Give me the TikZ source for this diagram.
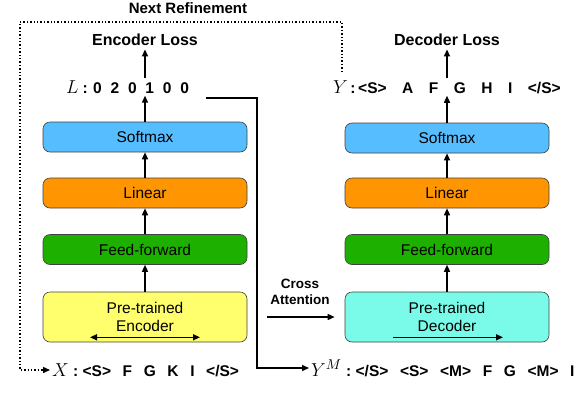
\documentclass[tikz,border=0pt]{standalone}
\usepackage{graphicx}
\usepackage{fontspec}
\setmainfont{Liberation Sans}
\usepackage{tikz}
\usetikzlibrary{arrows.meta}
\usetikzlibrary{positioning}
\definecolor{smblue}{RGB}{86,190,255}
\definecolor{linorange}{RGB}{255,149,0}
\definecolor{ffgreen}{RGB}{30,176,0}
\definecolor{encyellow}{RGB}{255,255,110}
\definecolor{deccyan}{RGB}{122,250,232}
\newcommand{\tkgap}{\hspace{0.75em}}
\newcommand{\tkwide}{\hspace{1.0em}}
\newcommand{\tknarrow}{\hspace{0.57em}}
\newcommand{\seqvar}[1]{\scalebox{1.3}{$#1$}}

\begin{document}
\begin{tikzpicture}[x=1pt, y=-1pt,
  layer/.style={draw=black!75, rounded corners=7pt, line width=0.6pt, minimum width=204pt, minimum height=30pt, font=\fontsize{15.5}{18}\selectfont},
  plm/.style={layer, minimum height=50pt, align=center},
  flow/.style={line width=1.4pt, -{Triangle[length=7pt,width=6pt]}},
  lossname/.style={font=\fontsize{16}{18}\selectfont\bfseries},
  tokens/.style={font=\fontsize{15.5}{18}\selectfont\bfseries, inner sep=2pt, anchor=west}]
\useasboundingbox (0,0) rectangle (580,410);
% encoder side
\node[layer, fill=smblue] (EncSm) at (145,137) {Softmax};
\node[layer, fill=linorange] (EncLin) at (145,193) {Linear};
\node[layer, fill=ffgreen] (EncFF) at (145,249.5) {Feed-forward};
\node[plm, fill=encyellow] (Enc) at (145,317) {Pre-trained\\Encoder};
\node[tokens] (LRow) at (64,87) {\seqvar{L}\hspace{0.25em}:\hspace{0.35em}0\tknarrow2\tknarrow0\tknarrow1\tknarrow0\tknarrow0};
\node[lossname] (EncLoss) at (145,40) {Encoder Loss};
\node[tokens] (XRow) at (50,370) {\seqvar{X}\;:\;<S>\tkgap{}F\tkgap{}G\tkgap{}K\tkgap{}I\tkgap{}</S>};
% decoder side
\node[layer, fill=smblue] (DecSm) at (447,138) {Softmax};
\node[layer, fill=linorange] (DecLin) at (447,193) {Linear};
\node[layer, fill=ffgreen] (DecFF) at (447,249.5) {Feed-forward};
\node[plm, fill=deccyan] (Dec) at (447,317) {Pre-trained\\Decoder};
\node[tokens] (YRow) at (331,87) {\seqvar{Y}\,:\,<S>\tkwide{}A\tkwide{}F\tkwide{}G\tkwide{}H\tkwide{}I\tkwide{}</S>};
\node[lossname] (DecLoss) at (447,40) {Decoder Loss};
\node[tokens] (YMRow) at (309,368) {\seqvar{Y^M}\;:\;</S>\tkgap{}<S>\tkgap{}<M>\tkgap{}F\tkgap{}G\tkgap{}<M>\tkgap{}I};
% labels
\node[font=\fontsize{15}{17}\selectfont\bfseries] (NextRef) at (188,8) {Next Refinement};
\node[font=\fontsize{13.5}{16}\selectfont\bfseries, align=center] (CrossAtt) at (300,292) {Cross\\Attention};
\coordinate (CaStart) at (267,317);
\coordinate (Tap) at (206,98);
\coordinate (LoopStart) at (342,72);
% flows
\draw[flow] (EncFF.north) -- (EncLin.south);
\draw[flow] (EncLin.north) -- (EncSm.south);
\draw[flow] (Enc.north) -- (EncFF.south);
\draw[flow] (EncSm.north) -- (EncSm.north |- LRow.south);
\draw[flow] (EncSm.north |- LRow.north) -- (EncLoss.south);
\draw[flow] (DecFF.north) -- (DecLin.south);
\draw[flow] (DecLin.north) -- (DecSm.south);
\draw[flow] (Dec.north) -- (DecFF.south);
\draw[flow] (DecSm.north) -- (DecSm.north |- YRow.south);
\draw[flow] (DecSm.north |- YRow.north) -- (DecLoss.south);
\draw[flow] (CaStart) -- ([xshift=-10pt]Dec.west |- CaStart);
\draw[flow] (Tap) -- (257,98) |- (YMRow.west);
\draw[flow, dotted] (LoopStart) -- (342,22) -- (20,22) |- (XRow.west);
% attention directions
\draw[line width=1.4pt, {Triangle[length=7pt,width=6pt]}-{Triangle[length=7pt,width=6pt]}] ([xshift=-55pt, yshift=5pt]Enc.south) -- ([xshift=55pt, yshift=5pt]Enc.south);
\draw[flow] ([xshift=-54pt, yshift=5pt]Dec.south) -- ([xshift=56pt, yshift=5pt]Dec.south);
\end{tikzpicture}
\end{document}
